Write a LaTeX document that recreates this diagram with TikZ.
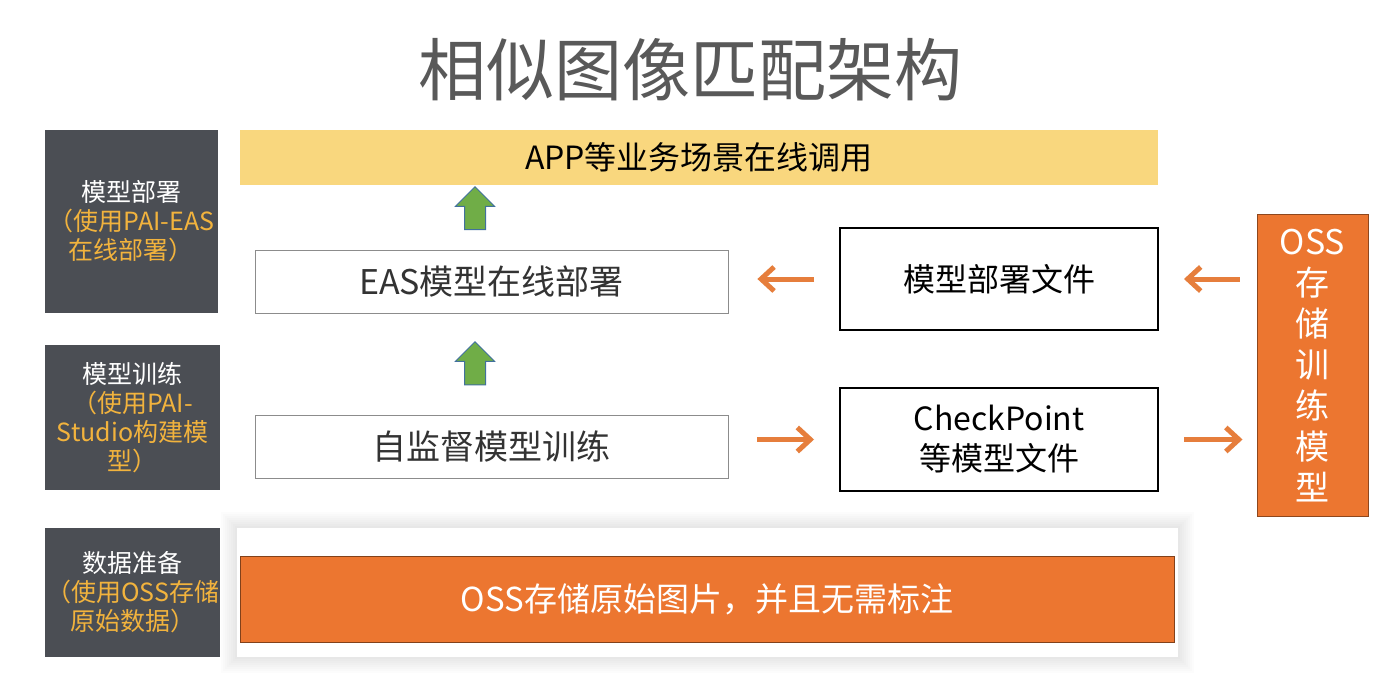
\documentclass[tikz,border=0pt]{standalone}
\usepackage{fontspec}
\setmainfont{Noto Sans CJK SC}
\usetikzlibrary{arrows.meta,shapes.arrows}
\definecolor{slate}{HTML}{4B4E54}
\definecolor{gold}{HTML}{F2B33D}
\definecolor{barfill}{HTML}{F9D77E}
\definecolor{orng}{HTML}{EC7630}
\definecolor{orngln}{HTML}{E67E3C}
\definecolor{leaf}{HTML}{70AD47}
\definecolor{leafln}{HTML}{41719C}
\begin{document}
\begin{tikzpicture}[x=1pt,y=-1pt,
side/.style={fill=slate, align=center, inner xsep=0pt, text=white, font=\fontsize{25}{29}\selectfont},
flat/.style={draw=black!45, line width=0.8pt, fill=white, minimum width=473pt, minimum height=63pt, font=\fontsize{34}{38}\selectfont, text=black!80},
file/.style={draw=black, line width=2pt, fill=white, align=center, minimum width=318pt, font=\fontsize{32}{40}\selectfont},
uparr/.style={single arrow, draw=leafln, line width=1pt, fill=leaf, rotate=90, minimum height=43pt, inner xsep=0pt, inner ysep=10pt, single arrow head extend=9pt, single arrow head indent=0pt},
oarr/.style={-{Straight Barb[length=13pt,width=24pt,line width=5pt]}, line width=5pt, draw=orngln}]
\useasboundingbox (0,0) rectangle (1400,695);
\fill[white] (0,0) rectangle (1400,695);

\node[text=black!65, font=\fontsize{68}{72}\selectfont] (title) at (690,70) {相似图像匹配架构};

% left column
\node[side, minimum width=173pt, minimum height=183pt] (stage1) at (131.5,221.5) {模型部署\\\textcolor{gold}{（使用PAI-EAS}\\\textcolor{gold}{在线部署）}};
\node[side, minimum width=175pt, minimum height=145pt] (stage2) at (132.5,417.5) {模型训练\\\textcolor{gold}{（使用PAI-}\\\textcolor{gold}{Studio构建模}\\\textcolor{gold}{型）}};
\node[side, minimum width=175pt, minimum height=129pt] (stage3) at (132.5,592.5) {数据准备\\\textcolor{gold}{（使用OSS存储}\\\textcolor{gold}{原始数据）}};

% main blocks
\node[fill=barfill, minimum width=918pt, minimum height=55pt, font=\fontsize{32}{34}\selectfont] (app) at (699,157.5) {APP等业务场景在线调用};
\node[flat] (eas) at (491.5,281.5) {EAS模型在线部署};
\node[flat] (train) at (491.5,446.5) {自监督模型训练};
\node[file, minimum height=102pt] (deploy) at (999,279) {模型部署文件};
\node[file, minimum height=103pt] (ckpt) at (999,439.5) {CheckPoint\\等模型文件};
\node[fill=orng, draw=orng!60!black, line width=1pt, minimum width=111pt, minimum height=301pt, align=center, text=white, font=\fontsize{34}{41}\selectfont] (oss) at (1312.5,365.5) {OSS\\存\\储\\训\\练\\模\\型};

% bottom panel with soft shadow
\foreach \g in {16,14,...,2}
  \fill[black, opacity=0.012] (237-\g,528-\g) rectangle (1178+\g,657+\g);
\node[fill=white, minimum width=941pt, minimum height=129pt] (panel) at (707.5,592.5) {};
\node[fill=orng, draw=orng!55!black, line width=1pt, minimum width=934pt, minimum height=86pt, text=white, font=\fontsize{33}{36}\selectfont] (raw) at (707,599) {OSS存储原始图片，并且无需标注};

% arrows
\node[uparr] (up1) at (475,213.5) {};
\node[uparr] (up2) at (475,368.5) {};
\draw[oarr, shorten <=25pt, shorten >=29pt] (deploy.west) -- (eas.east|-deploy.west);
\draw[oarr, shorten <=17pt, shorten >=25pt] (oss.west|-deploy.east) -- (deploy.east);
\draw[oarr, shorten <=29pt, shorten >=25pt] (train.east|-ckpt.west) -- (ckpt.west);
\draw[oarr, shorten <=25pt, shorten >=14pt] (ckpt.east) -- (oss.west|-ckpt.east);
\end{tikzpicture}
\end{document}
